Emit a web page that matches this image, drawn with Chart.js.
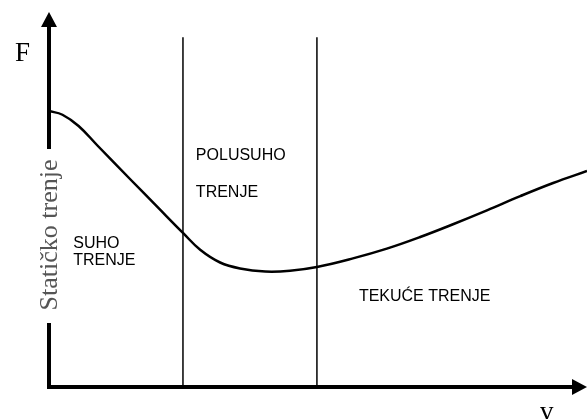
<!DOCTYPE html>
<html>
<head>
<meta charset="utf-8">
<script src="https://cdn.jsdelivr.net/npm/chart.js@4.4.1/dist/chart.umd.min.js"></script>
<style>
    body { margin: 0; background: #fff; }
    #wrap { width: 587px; height: 419px; }
</style>
</head>
<body>
<div id="wrap"><canvas id="chartCanvas" width="587" height="419"></canvas></div>
<script>
// Stribeck curve (v and F in arbitrary units 0..100)
const velocity = [0, 2.5, 5.5, 9.0, 15.1, 20.1, 24.9, 28.1, 31.8, 35.5, 40.2, 44.8, 49.8, 56.5, 62.8, 69.0, 75.1, 81.4, 87.6, 93.7, 100];
const friction = [73.6, 72.6, 69.6, 64.4, 55.4, 48.1, 41.1, 36.6, 33.2, 31.6, 30.8, 31.0, 32.0, 34.3, 36.9, 40.0, 43.4, 47.1, 50.9, 54.4, 57.6];

// region borders (v) and how high they go (F)
const borders = [24.9, 49.8];
const borderTop = 93.3;

// region labels: text lines, v, F of each baseline
const regionText = [['SUHO', 'TRENJE'], ['POLUSUHO', 'TRENJE'], ['TEKUĆE TRENJE']];
const regionX = [4.5, 27.3, 57.6];
const regionY = [[37.1, 32.5], [60.5, 50.7], [22.9]];

const axisLabelY = 'Statičko trenje';
const axisLabelF = 'F';
const axisLabelV = 'v';

const curve = velocity.map((v, i) => ({ x: v, y: friction[i] }));

const datasets = [{
    data: curve,
    borderColor: '#000',
    borderWidth: 2.5,
    pointRadius: 0,
    tension: 0.4,
    fill: false
}];
borders.forEach(b => {
    datasets.push({
        data: [{ x: b, y: 0 }, { x: b, y: borderTop }],
        borderColor: '#000',
        borderWidth: 1.5,
        pointRadius: 0,
        fill: false
    });
});

// axes with arrows + texts
const decorations = {
    id: 'decorations',
    afterDraw(chart) {
        const ctx = chart.ctx;
        const a = chart.chartArea;
        const x = chart.scales.x, y = chart.scales.y;
        const x0 = x.getPixelForValue(0), y0 = y.getPixelForValue(0);
        ctx.save();
        ctx.strokeStyle = '#000';
        ctx.fillStyle = '#000';
        ctx.lineWidth = 4;
        ctx.beginPath();
        ctx.moveTo(x0, y0 + 2);
        ctx.lineTo(x0, a.top + 12);
        ctx.moveTo(x0 - 2, y0);
        ctx.lineTo(a.right - 12, y0);
        ctx.stroke();
        // arrow heads
        ctx.beginPath();
        ctx.moveTo(x0, a.top);
        ctx.lineTo(x0 - 8, a.top + 15);
        ctx.lineTo(x0 + 8, a.top + 15);
        ctx.closePath();
        ctx.fill();
        ctx.beginPath();
        ctx.moveTo(a.right, y0);
        ctx.lineTo(a.right - 15, y0 - 8);
        ctx.lineTo(a.right - 15, y0 + 8);
        ctx.closePath();
        ctx.fill();

        // rotated label sitting on the y axis
        ctx.fillStyle = '#fff';
        ctx.fillRect(x0 - 6, 149, 12, 174);
        ctx.translate(x0, 235);
        ctx.rotate(-Math.PI / 2);
        ctx.fillStyle = '#555';
        ctx.font = '26px "Liberation Serif", "DejaVu Serif", serif';
        ctx.textAlign = 'center';
        ctx.textBaseline = 'middle';
        ctx.fillText(axisLabelY, 0, 1);
        ctx.restore();

        ctx.save();
        ctx.fillStyle = '#000';
        ctx.font = '27px "Liberation Serif", "DejaVu Serif", serif';
        ctx.textBaseline = 'alphabetic';
        ctx.fillText(axisLabelF, x0 - 34, a.top + 49);
        ctx.fillText(axisLabelV, a.right - 47, y0 + 33);

        ctx.font = '16px "Liberation Sans", Arial, sans-serif';
        regionText.forEach((lines, i) => {
            lines.forEach((t, j) => {
                ctx.fillText(t, x.getPixelForValue(regionX[i]), y.getPixelForValue(regionY[i][j]));
            });
        });
        ctx.restore();
    }
};

const ctx = document.getElementById('chartCanvas').getContext('2d');
let chart = new Chart(ctx, {
    type: 'line',
    data: { datasets: datasets },
    options: {
        responsive: false,
        animation: false,
        layout: { padding: { left: 49, right: 0, top: 12, bottom: 32 } },
        plugins: { legend: { display: false }, tooltip: { enabled: false } },
        scales: {
            x: { type: 'linear', min: 0, max: 100, display: false },
            y: { type: 'linear', min: 0, max: 100, display: false }
        }
    },
    plugins: [decorations]
});
</script>
</body>
</html>
